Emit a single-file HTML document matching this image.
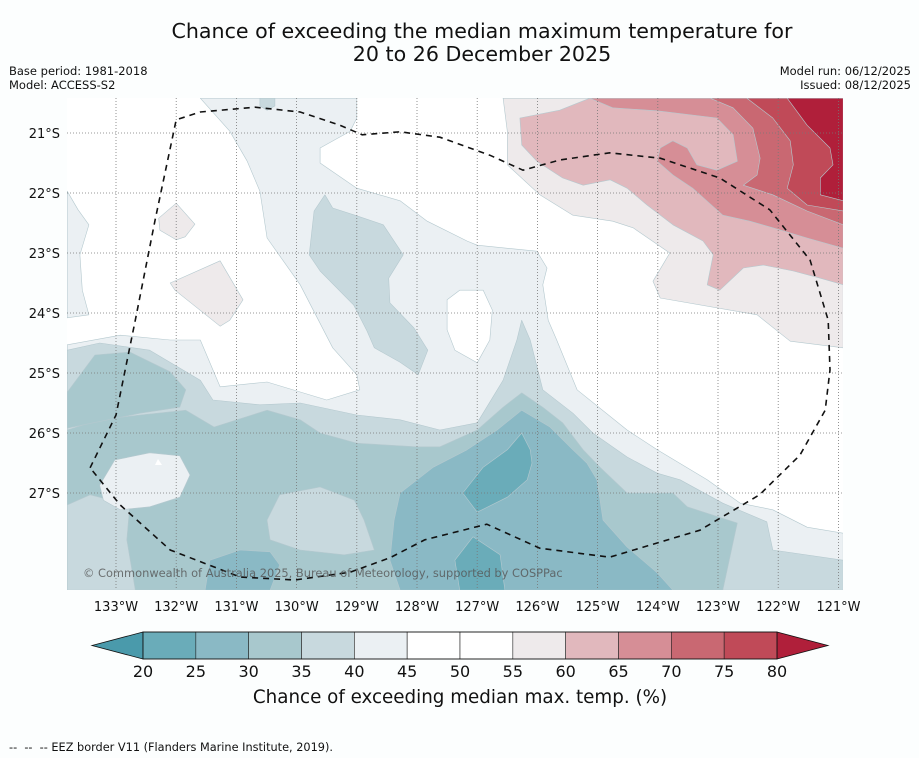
<!DOCTYPE html>
<html><head><meta charset="utf-8">
<style>
html,body{margin:0;padding:0;background:#fcfefe;}
body{width:919px;height:758px;overflow:hidden;font-family:"Liberation Sans","DejaVu Sans",sans-serif;}
svg{display:block;}
svg text{font-family:"DejaVu Sans","Liberation Sans",sans-serif;}
</style></head>
<body>
<svg id="chart" width="919" height="758" xmlns="http://www.w3.org/2000/svg">
<text x="482" y="38" font-size="20.6" text-anchor="middle" fill="#111">Chance of exceeding the median maximum temperature for</text>
<text x="482" y="61" font-size="20.6" text-anchor="middle" fill="#111">20 to 26 December 2025</text>
<text x="9" y="75" font-size="11.5" fill="#111">Base period: 1981-2018</text>
<text x="9" y="89" font-size="11.5" fill="#111">Model: ACCESS-S2</text>
<text x="911" y="75" font-size="11.5" text-anchor="end" fill="#111">Model run: 06/12/2025</text>
<text x="911" y="89" font-size="11.5" text-anchor="end" fill="#111">Issued: 08/12/2025</text>
<defs><clipPath id="mapclip"><rect x="67" y="98" width="776" height="492"/></clipPath></defs>
<g id="map" clip-path="url(#mapclip)"></g>
<g id="axes"></g>
<text x="83" y="577" font-size="11.4" fill="#555" opacity="0.8">© Commonwealth of Australia 2025, Bureau of Meteorology, supported by COSPPac</text>
<g id="cbar"></g>
<text x="460" y="703" font-size="18.3" text-anchor="middle" fill="#111">Chance of exceeding median max. temp. (%)</text>
<text x="9" y="751" font-size="11.3" fill="#111" xml:space="preserve">--  --  -- EEZ border V11 (Flanders Marine Institute, 2019).</text>
</svg>
<script>
// ---- data ----
const lonTicks = [133,132,131,130,129,128,127,126,125,124,123,122,121];
const latTicks = [21,22,23,24,25,26,27];
const cbarLevels = [20,25,30,35,40,45,50,55,60,65,70,75,80];
const cbarColors = ["#6aacb9","#8ab9c5","#a8c8cd","#c8d9de","#ebf0f3","#ffffff","#ffffff","#eeeaeb","#e1b8bd","#d68e96","#c96872","#c04a58"];
const lowColor = "#4a9aab";
const highColor = "#b01f3a";
// contour regions: [[lonW, latS], ...]
const regionL40a = [[133.81,24.53],[132.93,24.37],[132.10,24.45],[131.60,24.45],[131.27,25.23],[130.49,25.15],[129.50,25.45],[128.95,25.28],[129.00,25.03],[129.40,24.58],[129.94,23.53],[130.49,22.75],[130.61,21.97],[130.82,21.47],[131.11,20.97],[131.60,20.42],[129.00,20.42],[129.00,20.75],[129.11,20.97],[129.61,21.25],[129.61,21.50],[129.00,21.92],[128.28,22.13],[127.83,22.47],[127.17,22.80],[127.00,22.87],[126.01,22.97],[125.84,23.25],[125.91,23.53],[125.82,24.12],[125.68,24.45],[125.34,25.28],[124.51,25.95],[124.01,26.28],[123.18,26.78],[122.63,27.17],[122.09,27.28],[121.52,27.57],[120.92,27.67],[120.92,28.62],[133.81,28.62]];
const regionL40b = [[133.81,21.97],[133.63,22.28],[133.45,22.53],[133.60,23.03],[133.56,23.62],[133.45,24.03],[133.81,24.08]];
const regionWhite = [[127.50,23.78],[127.29,23.62],[126.90,23.62],[126.75,23.95],[126.79,24.45],[127.00,24.83],[127.37,24.62],[127.50,24.28]];
const regionL35a = [[130.61,20.42],[130.36,20.42],[130.36,20.55],[130.49,20.62],[130.61,20.55]];
const regionL35b = [[129.53,22.03],[129.40,22.25],[129.00,22.38],[128.56,22.53],[128.23,23.03],[128.47,23.42],[128.45,23.83],[128.05,24.25],[127.82,24.62],[127.98,25.03],[128.28,24.82],[128.71,24.58],[128.83,24.30],[129.05,23.87],[129.61,23.30],[129.79,23.03],[129.71,22.30]];
const regionL35c = [[133.81,24.62],[133.27,24.50],[132.44,24.62],[131.60,25.12],[131.39,25.45],[130.61,25.53],[129.94,25.50],[129.00,25.70],[128.28,25.78],[127.62,25.95],[127.00,25.83],[126.57,25.12],[126.34,24.45],[126.26,24.12],[126.12,24.45],[125.91,25.28],[125.41,25.67],[125.08,26.00],[124.51,26.40],[124.01,26.67],[123.63,26.78],[122.92,27.17],[122.19,27.48],[122.09,27.95],[120.92,28.12],[120.92,28.62],[133.81,28.62]];
const regionL30a = [[133.81,25.95],[133.27,25.78],[132.60,25.70],[131.84,25.62],[131.37,25.90],[130.49,25.62],[129.94,25.78],[129.61,26.00],[129.00,26.17],[128.00,26.23],[127.62,26.23],[127.00,25.95],[126.57,25.57],[126.26,25.33],[125.91,25.57],[125.58,25.83],[125.24,26.28],[124.96,26.57],[124.51,27.00],[123.75,27.00],[123.51,27.23],[122.68,27.50],[122.92,28.62],[133.81,28.62]];
const regionL30b = [[133.81,25.32],[133.35,24.70],[132.77,24.65],[132.10,24.98],[131.84,25.28],[131.94,25.57],[132.60,25.67],[133.81,25.92]];
const regionL35d = [[130.49,27.45],[130.28,27.03],[129.61,26.90],[129.04,27.12],[128.88,27.45],[128.71,27.95],[129.21,28.03],[129.94,27.95],[130.44,27.78]];
const regionL35e = [[133.81,27.20],[133.43,27.03],[132.77,27.20],[132.82,27.78],[132.68,28.62],[133.81,28.62]];
const regionL40c = [[133.27,26.87],[133.02,26.45],[132.44,26.33],[131.94,26.38],[131.77,26.70],[131.94,27.07],[132.44,27.23],[132.93,27.28],[133.21,27.12]];
const regionL25a = [[128.38,27.45],[128.28,27.00],[127.73,26.57],[127.17,26.28],[126.67,25.95],[126.26,25.62],[125.79,25.90],[125.41,26.28],[125.18,26.50],[125.01,26.78],[124.91,27.45],[124.51,27.90],[124.01,28.33],[123.75,28.62],[128.28,28.62],[128.45,28.12]];
const regionL25b = [[131.44,28.12],[130.94,27.95],[130.44,27.98],[130.28,28.20],[130.44,28.62],[131.52,28.62]];
const regionL20a = [[126.26,26.00],[126.12,26.28],[126.09,26.50],[126.17,26.78],[126.50,27.07],[127.00,27.32],[127.24,27.00],[126.90,26.57],[126.50,26.28]];
const regionL20b = [[127.07,27.73],[126.62,28.03],[126.54,28.62],[127.29,28.62],[127.37,28.12]];
const regionW55a = [[126.57,20.42],[126.50,20.97],[126.50,21.53],[125.96,22.03],[125.41,22.37],[124.75,22.47],[124.41,22.58],[123.80,23.00],[124.08,23.47],[123.96,23.75],[122.35,24.03],[121.80,24.47],[120.92,24.58],[120.92,20.42]];
const regionW55b = [[132.29,22.42],[132.00,22.17],[131.69,22.52],[131.85,22.73],[132.00,22.78],[132.27,22.62]];
const regionW55c = [[132.10,23.50],[131.27,23.13],[130.89,23.78],[131.11,24.12],[131.27,24.22],[132.02,23.62]];
const regionW60 = [[125.13,20.42],[125.63,20.62],[126.29,20.75],[126.26,21.20],[126.01,21.47],[125.58,21.75],[125.24,21.87],[124.79,21.78],[124.51,21.92],[124.18,22.20],[123.75,22.53],[123.25,22.80],[123.08,23.03],[123.18,23.53],[122.97,23.62],[122.58,23.25],[122.25,23.20],[121.75,23.30],[121.30,23.42],[120.92,23.53],[120.92,20.42]];
const regionW65 = [[125.13,20.42],[124.75,20.58],[124.01,20.63],[123.02,20.75],[122.75,21.03],[122.68,21.47],[123.02,21.62],[123.35,21.53],[123.51,21.25],[123.75,21.13],[123.96,21.25],[124.01,21.47],[123.75,21.70],[123.42,21.92],[122.92,22.37],[122.47,22.47],[122.09,22.58],[121.52,22.75],[120.92,22.92],[120.92,20.42]];
const regionW70 = [[123.13,20.42],[122.75,20.58],[122.42,20.92],[122.30,21.42],[122.35,21.70],[122.58,21.87],[122.09,22.03],[121.52,22.30],[120.92,22.53],[120.92,20.42]];
const regionW75 = [[122.52,20.42],[122.09,20.75],[121.80,21.13],[121.75,21.53],[121.85,21.92],[121.52,22.20],[120.92,22.30],[120.92,20.42]];
const regionW80 = [[121.85,20.42],[121.52,20.87],[121.14,21.25],[121.09,21.53],[121.30,21.75],[121.30,22.03],[120.92,22.13],[120.92,20.42]];
const eezLon = [133.43,133.00,132.68,132.35,132.00,131.60,130.69,129.94,129.28,128.91,128.28,127.62,126.79,126.24,125.63,124.80,123.96,122.97,122.14,121.47,121.17,121.14,121.22,121.64,122.31,123.30,124.80,125.96,126.84,127.87,128.45,129.11,130.03,130.94,132.10,132.93,133.43];
const eezLat = [26.58,25.70,24.12,22.45,20.78,20.65,20.57,20.65,20.87,21.03,20.98,21.07,21.37,21.62,21.45,21.33,21.42,21.75,22.28,23.12,24.12,24.95,25.62,26.37,27.03,27.62,28.07,27.92,27.52,27.78,28.08,28.32,28.45,28.40,27.95,27.20,26.58];

// ---- axis functions ----
const X = lon => 116 + (133 - lon) * 60.2;
const Y = lat => 133 + (lat - 21) * 60;
const NS = "http://www.w3.org/2000/svg";
function mk(tag, attrs, parent){ const e=document.createElementNS(NS,tag); for(const k in attrs) e.setAttribute(k,attrs[k]); parent.appendChild(e); return e; }
const map = document.getElementById('map');
const bg = mk('rect',{x:67,y:98,width:776,height:492,fill:'#ffffff'},map);


const layers = [
 [regionL40a,"#ebf0f3","contour-40-45"],[regionL40b,"#ebf0f3","contour-40-45-west"],[regionWhite,"#ffffff","contour-45-50-pocket"],
 [regionL35a,"#c8d9de","contour-35-40-north"],[regionL35b,"#c8d9de","contour-35-40-central"],[regionL35c,"#c8d9de","contour-35-40-south"],
 [regionL30a,"#a8c8cd","contour-30-35-south"],[regionL30b,"#a8c8cd","contour-30-35-west"],
 [regionL35d,"#c8d9de","contour-35-40-patch"],[regionL35e,"#c8d9de","contour-35-40-southwest"],[regionL40c,"#ebf0f3","contour-40-45-patch"],
 [regionL25a,"#8ab9c5","contour-25-30-south"],[regionL25b,"#8ab9c5","contour-25-30-patch"],
 [regionL20a,"#6aacb9","contour-20-25-core"],[regionL20b,"#6aacb9","contour-20-25-south"],
 [regionW55a,"#eeeaeb","contour-55-60-northeast"],[regionW55b,"#eeeaeb","contour-55-60-blob1"],[regionW55c,"#eeeaeb","contour-55-60-blob2"],
 [regionW60,"#e1b8bd","contour-60-65"],[regionW65,"#d68e96","contour-65-70"],[regionW70,"#c96872","contour-70-75"],
 [regionW75,"#c04a58","contour-75-80"],[regionW80,"#b01f3a","contour-80-plus"]
];
layers.forEach(([pts,col,name])=>{
  const p = mk('polygon',{points:pts.map(q=>X(q[0]).toFixed(1)+','+Y(q[1]).toFixed(1)).join(' '),fill:col,stroke:'#b5c9cf','stroke-width':0.6,'stroke-linejoin':'round'},map);
  
  
});
const tri = mk('polygon',{points:[[158,459],[155,465],[162,465]].map(q=>q.join(',')).join(' '),fill:'#fff'},map);


// grid
lonTicks.forEach(l=>{
  const g = mk('line',{x1:X(l),x2:X(l),y1:98,y2:590,stroke:'#777','stroke-width':0.8,'stroke-dasharray':'1,2'},map);
  
  
});
latTicks.forEach(l=>{
  const g = mk('line',{x1:67,x2:843,y1:Y(l),y2:Y(l),stroke:'#777','stroke-width':0.8,'stroke-dasharray':'1,2'},map);
  
  
});
// EEZ
const eez = mk('polyline',{points:eezLon.map((l,i)=>X(l).toFixed(1)+','+Y(eezLat[i]).toFixed(1)).join(' '),fill:'none',stroke:'#111','stroke-width':1.6,'stroke-dasharray':'6,5'},map);


// axis labels
const axes = document.getElementById('axes');
lonTicks.forEach(l=>{
  const t = mk('text',{x:X(l),y:611,'font-size':13,'text-anchor':'middle',fill:'#111'},axes);
  t.textContent = l+'°W';
  
  
});
latTicks.forEach(l=>{
  const t = mk('text',{x:60,y:Y(l)+5,'font-size':13,'text-anchor':'end',fill:'#111'},axes);
  t.textContent = l+'°S';
  
  
});
// colorbar
const cb = document.getElementById('cbar');
const cx0=143, cx1=777, cy0=632, cy1=659;
const CX = v => cx0 + (v-cbarLevels[0])/(cbarLevels[cbarLevels.length-1]-cbarLevels[0])*(cx1-cx0);
const lo = mk('polygon',{points:`92,645.5 ${cx0},${cy0} ${cx0},${cy1}`,fill:lowColor,stroke:'#111','stroke-width':0.8},cb);


const hi = mk('polygon',{points:`828,645.5 ${cx1},${cy0} ${cx1},${cy1}`,fill:highColor,stroke:'#111','stroke-width':0.8},cb);


cbarColors.forEach((c,i)=>{
  const r = mk('rect',{x:CX(cbarLevels[i]),y:cy0,width:CX(cbarLevels[i+1])-CX(cbarLevels[i]),height:cy1-cy0,fill:c,stroke:'#222','stroke-width':0.6},cb);
  
  
});
const fr = mk('rect',{x:cx0,y:cy0,width:cx1-cx0,height:cy1-cy0,fill:'none',stroke:'#111','stroke-width':0.8},cb);


cbarLevels.forEach(v=>{
  const t = mk('text',{x:CX(v),y:677,'font-size':16,'text-anchor':'middle',fill:'#111'},cb);
  t.textContent = v;
  
  
});
</script>
</body></html>
